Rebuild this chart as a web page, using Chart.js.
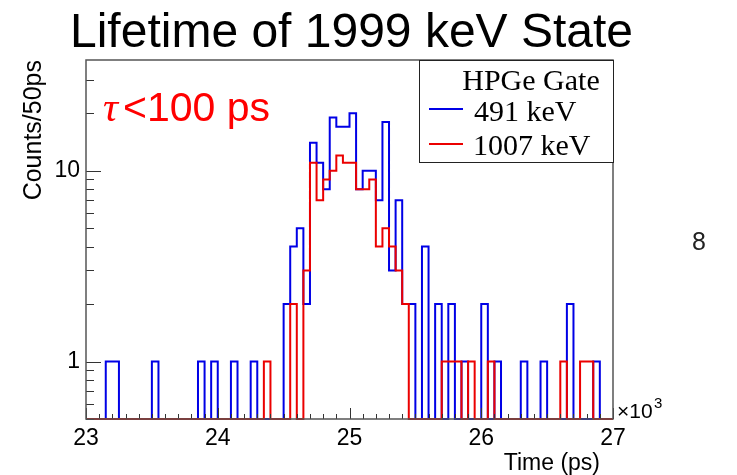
<!DOCTYPE html>
<html>
<head>
<meta charset="utf-8">
<script src="https://cdn.jsdelivr.net/npm/chart.js@4.4.1/dist/chart.umd.min.js"></script>
<style>
html, body { margin: 0; padding: 0; background: #fff; }
</style>
</head>
<body>
<canvas id="c" width="737" height="475"></canvas>
<script>
// time histogram, 50 ps bins from 23000 to 27000 ps
var binStart = 23000;
var binWidth = 50;
var xTicks = [23000, 24000, 25000, 26000, 27000];
var yTicks = [1, 10];

// counts per bin, HPGe gate on 491 keV
var counts491 = [
  0, 0, 0, 1, 1, 0, 0, 0, 0, 0,
  1, 0, 0, 0, 0, 0, 0, 1, 0, 1,
  0, 0, 1, 0, 0, 1, 0, 0, 0, 0,
  2, 4, 5, 2, 14, 11, 8, 19, 17, 17,
  20, 8, 10, 10, 7, 18, 3, 7, 2, 2,
  0, 4, 0, 2, 0, 2, 0, 1, 0, 0,
  2, 0, 1, 0, 0, 0, 1, 0, 0, 1,
  0, 0, 0, 2, 0, 0, 0, 1, 0, 0
];
// counts per bin, HPGe gate on 1007 keV
var counts1007 = [
  0, 0, 0, 0, 0, 0, 0, 0, 0, 0,
  0, 0, 0, 0, 0, 0, 0, 0, 0, 0,
  0, 0, 0, 0, 0, 0, 0, 1, 0, 0,
  0, 2, 0, 3, 11, 7, 9, 10, 12, 11,
  11, 8, 8, 9, 4, 5, 4, 3, 2, 0,
  0, 0, 0, 0, 1, 1, 1, 0, 1, 0,
  0, 1, 0, 0, 0, 0, 0, 0, 0, 0,
  0, 0, 1, 0, 0, 1, 1, 0, 0, 0
];

var yMin = 0.5, yMax = 38;
var blue = 'rgb(0,0,230)';
var red = 'rgb(235,0,0)';
var sans = '"Liberation Sans", Arial, sans-serif';
var serif = '"Liberation Serif", "Times New Roman", serif';

// empty bins sit on the frame floor, like ROOT does on a log axis
function toSteps(counts) {
  var pts = [];
  for (var i = 0; i < counts.length; i++) {
    pts.push({ x: binStart + i * binWidth, y: counts[i] > 0 ? counts[i] : yMin });
  }
  pts.push({ x: binStart + counts.length * binWidth, y: pts[pts.length - 1].y });
  return pts;
}

var decor = {
  id: 'decor',
  afterDatasetsDraw: function(chart) {
    var ctx = chart.ctx, a = chart.chartArea;
    var xs = chart.scales.x, ys = chart.scales.y;
    ctx.save();
    ctx.strokeStyle = '#333';
    ctx.lineWidth = 1;
    ctx.beginPath();
    // y ticks, inside the frame
    var v, p;
    for (var d = 0.1; d <= 10; d *= 10) {
      for (var k = 1; k <= 9; k++) {
        v = k * d;
        if (v < yMin || v > yMax) continue;
        p = Math.round(ys.getPixelForValue(v)) + 0.5;
        ctx.moveTo(a.left, p);
        ctx.lineTo(a.left + (k == 1 ? 15 : 8), p);
      }
    }
    // x ticks
    for (v = 23000; v <= 27000; v += 100) {
      p = Math.round(xs.getPixelForValue(v)) + 0.5;
      ctx.moveTo(p, a.bottom);
      ctx.lineTo(p, a.bottom - (v % 1000 == 0 ? 11 : 5));
    }
    ctx.stroke();

    // frame
    ctx.strokeStyle = '#555';
    ctx.lineWidth = 1.5;
    ctx.strokeRect(a.left, a.top, a.right - a.left, a.bottom - a.top);

    // legend box
    ctx.fillStyle = '#fff';
    ctx.fillRect(419, 60.5, 194, 102);
    ctx.strokeStyle = '#222';
    ctx.lineWidth = 1;
    ctx.strokeRect(419.5, 60.5, 194, 102);
    ctx.fillStyle = '#000';
    ctx.font = '30px ' + serif;
    ctx.textBaseline = 'alphabetic';
    ctx.textAlign = 'center';
    ctx.fillText('HPGe Gate', 531, 90);
    ctx.textAlign = 'left';
    ctx.fillText('491 keV', 474, 121);
    ctx.fillText('1007 keV', 473, 155);
    ctx.lineWidth = 2;
    ctx.strokeStyle = blue;
    ctx.beginPath(); ctx.moveTo(429, 109); ctx.lineTo(463, 109); ctx.stroke();
    ctx.strokeStyle = red;
    ctx.beginPath(); ctx.moveTo(429, 144); ctx.lineTo(463, 144); ctx.stroke();

    // lifetime limit
    ctx.fillStyle = 'rgb(255,0,0)';
    ctx.font = 'italic 42px ' + serif;
    ctx.fillText('\u03c4', 103, 121);
    ctx.font = '41px ' + sans;
    ctx.fillText('<100 ps', 123, 121);
    ctx.restore();
  },
  afterDraw: function(chart) {
    var ctx = chart.ctx;
    ctx.save();
    ctx.fillStyle = '#000';
    ctx.textBaseline = 'alphabetic';
    ctx.textAlign = 'left';
    ctx.font = '48px ' + sans;
    ctx.fillText('Lifetime of 1999 keV State', 70, 47);

    ctx.font = '23px ' + sans;
    ctx.textAlign = 'right';
    ctx.fillText('Time (ps)', 600, 470);

    ctx.font = '21px ' + sans;
    ctx.textAlign = 'left';
    ctx.fillText('\u00d710', 617, 418);
    ctx.font = '15px ' + sans;
    ctx.fillText('3', 654, 408);

    ctx.fillStyle = '#222';
    ctx.font = '25px ' + sans;
    ctx.fillText('8', 692, 250);

    ctx.fillStyle = '#000';
    ctx.translate(41, 60);
    ctx.rotate(-Math.PI / 2);
    ctx.textAlign = 'right';
    ctx.font = '25px ' + sans;
    ctx.fillText('Counts/50ps', 0, 0);
    ctx.restore();
  }
};

var ctx = document.getElementById('c').getContext('2d');
var chart = new Chart(ctx, {
  type: 'line',
  data: {
    datasets: [{
      label: '1007 keV',
      data: toSteps(counts1007),
      borderColor: red,
      borderWidth: 2,
      stepped: 'before',
      pointRadius: 0,
      fill: false,
      clip: false,
      order: 1
    }, {
      label: '491 keV',
      data: toSteps(counts491),
      borderColor: blue,
      borderWidth: 2,
      stepped: 'before',
      pointRadius: 0,
      fill: false,
      clip: false,
      order: 2
    }]
  },
  options: {
    responsive: false,
    animation: false,
    layout: { padding: { top: 60, right: 124, left: 0, bottom: 0 } },
    plugins: {
      legend: { display: false },
      tooltip: { enabled: false },
      title: { display: false }
    },
    scales: {
      x: {
        type: 'linear',
        min: binStart,
        max: 27000,
        border: { display: false },
        grid: { display: false, drawTicks: false },
        ticks: {
          padding: 6,
          color: '#000',
          font: { family: sans, size: 23 },
          maxRotation: 0,
          callback: function(v) { return v / 1000; }
        },
        afterBuildTicks: function(s) { s.ticks = xTicks.map(function(v) { return { value: v }; }); },
        afterFit: function(s) { s.height = 56; }
      },
      y: {
        type: 'logarithmic',
        min: yMin,
        max: yMax,
        border: { display: false },
        grid: { display: false, drawTicks: false },
        ticks: {
          padding: 6,
          color: '#000',
          font: { family: sans, size: 23 },
          callback: function(v) { return String(v); }
        },
        afterBuildTicks: function(s) { s.ticks = yTicks.map(function(v) { return { value: v }; }); },
        afterFit: function(s) { s.width = 86; }
      }
    }
  },
  plugins: [decor]
});
</script>
</body>
</html>
